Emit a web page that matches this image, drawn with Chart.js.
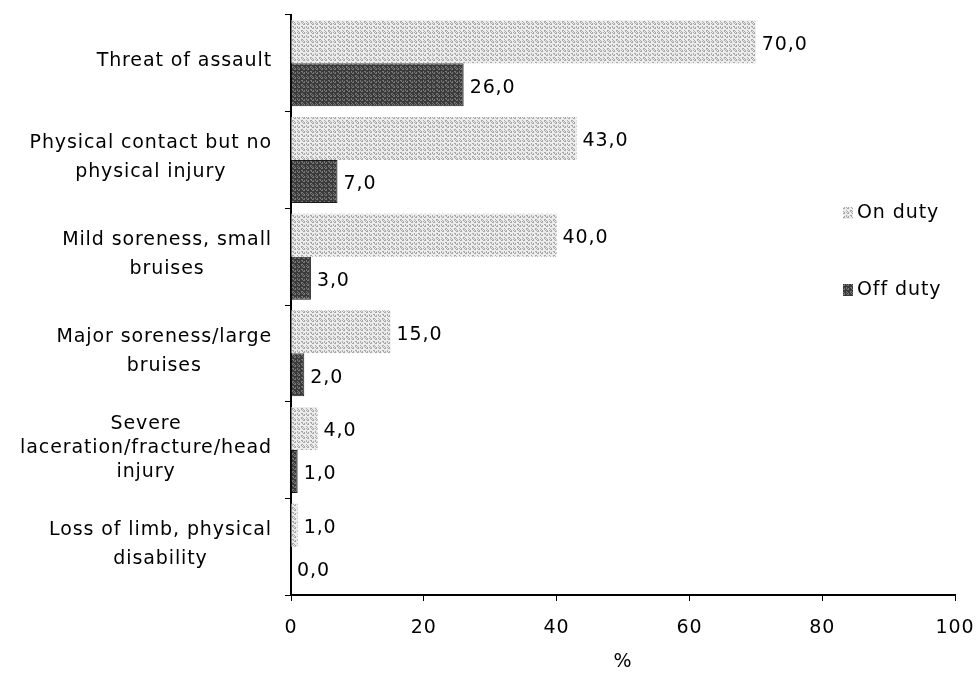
<!DOCTYPE html>
<html><head><meta charset="utf-8">
<script src="https://cdn.jsdelivr.net/npm/chart.js@4"></script>
<style>html,body{margin:0;padding:0;background:#fff}#wrap{width:979px;height:673px}</style>
</head><body><div id="wrap"><canvas id="c" width="979" height="673"></canvas></div>
<script>
const categories = [
  ["Threat of assault"],
  ["Physical contact but no", "physical injury"],
  ["Mild soreness, small", "bruises"],
  ["Major soreness/large", "bruises"],
  ["Severe", "laceration/fracture/head", "injury"],
  ["Loss of limb, physical", "disability"]
];
const onDuty = [70, 43, 40, 15, 4, 1];
const offDuty = [26, 7, 3, 2, 1, 0];
const xTicks = [0, 20, 40, 60, 80, 100];
const seriesNames = ["On duty", "Off duty"];

function makePattern(base, dot, seedA, seedB) {
  const p = document.createElement('canvas');
  p.width = 9; p.height = 9;
  const g = p.getContext('2d');
  g.fillStyle = base; g.fillRect(0, 0, 9, 9);
  g.fillStyle = dot;
  for (let y = 0; y < 9; y++) for (let x = 0; x < 9; x++) {
    if (((x * seedA + y * seedB + x * y) % 5) < 2) g.fillRect(x, y, 1, 1);
  }
  return document.getElementById('c').getContext('2d').createPattern(p, 'repeat');
}
const onFill = makePattern('#ececec', '#a8a8a8', 3, 7);
const offFill = makePattern('#3a3a3a', '#767676', 3, 7);

const FONT = "'DejaVu Sans', Verdana, sans-serif";
const FSIZE = 19;
const SPACING = '0.9px';

const spacingPlugin = {
  id: 'spacing',
  beforeUpdate(chart) { chart.ctx.letterSpacing = SPACING; },
  beforeDraw(chart) { chart.ctx.letterSpacing = SPACING; }
};

const valueLabels = {
  id: 'valueLabels',
  afterDatasetsDraw(chart) {
    const ctx = chart.ctx;
    ctx.save();
    ctx.letterSpacing = SPACING;
    ctx.font = FSIZE + 'px ' + FONT;
    ctx.fillStyle = '#000';
    ctx.textAlign = 'left';
    ctx.textBaseline = 'middle';
    chart.data.datasets.forEach((ds, di) => {
      chart.getDatasetMeta(di).data.forEach((el, i) => {
        const v = ds.data[i];
        ctx.fillText(v.toFixed(1).replace('.', ','), el.x + 6, el.y + 3);
      });
    });
    ctx.restore();
  }
};

const categoryLabels = {
  id: 'categoryLabels',
  afterDraw(chart) {
    const ctx = chart.ctx;
    const ys = chart.scales.y;
    ctx.save();
    ctx.letterSpacing = SPACING;
    ctx.font = FSIZE + 'px ' + FONT;
    ctx.fillStyle = '#000';
    ctx.textAlign = 'center';
    ctx.textBaseline = 'middle';
    categories.forEach((lines, i) => {
      const cy = ys.getPixelForValue(i);
      const w = Math.max(...lines.map(l => ctx.measureText(l).width));
      const cx = 272 - w / 2;
      const gap = lines.length > 2 ? 24 : 29;
      const y0 = cy - gap * (lines.length - 1) / 2 - 2;
      lines.forEach((l, k) => ctx.fillText(l, cx, y0 + k * gap));
    });
    ctx.restore();
  }
};

const customLegend = {
  id: 'customLegend',
  afterDraw(chart) {
    const ctx = chart.ctx;
    ctx.save();
    ctx.letterSpacing = SPACING;
    ctx.font = FSIZE + 'px ' + FONT;
    ctx.textBaseline = 'middle';
    const ys = [213, 290];
    const fills = [onFill, offFill];
    seriesNames.forEach((n, i) => {
      ctx.fillStyle = fills[i];
      ctx.fillRect(843, ys[i] - 6, 10, 12);
      ctx.fillStyle = '#000';
      ctx.fillText(n, 857, ys[i]);
    });
    ctx.restore();
  }
};

new Chart(document.getElementById('c'), {
  type: 'bar',
  data: {
    labels: categories.map(c => c.join(' ')),
    datasets: [
      { label: seriesNames[0], data: onDuty, backgroundColor: onFill, borderWidth: 0,
        categoryPercentage: 0.89, barPercentage: 1.0 },
      { label: seriesNames[1], data: offDuty, backgroundColor: offFill, borderColor: '#1a1a1a', borderWidth: 1,
        categoryPercentage: 0.89, barPercentage: 1.0 }
    ]
  },
  options: {
    indexAxis: 'y',
    responsive: false,
    animation: false,
    layout: { autoPadding: false, padding: { top: 15, right: 24, left: 0, bottom: 0 } },
    plugins: { legend: { display: false }, tooltip: { enabled: false } },
    scales: {
      x: {
        min: 0, max: 100,
        afterBuildTicks(s) { s.ticks = xTicks.map(v => ({ value: v })); },
        afterFit(s) { s.height = 78; s.paddingLeft = 0; s.paddingRight = 0; s.paddingTop = 0; s.paddingBottom = 0; },
        border: { color: '#000', width: 2 },
        grid: { drawOnChartArea: false, color: '#000', tickLength: 6, lineWidth: 1 },
        ticks: { color: '#000', font: { family: FONT, size: FSIZE }, padding: 16, maxRotation: 0 },
        title: { display: true, text: '%', color: '#000', font: { family: FONT, size: FSIZE }, padding: { top: 2, bottom: 0 } }
      },
      y: {
        afterFit(s) { s.width = 291; s.paddingLeft = 0; s.paddingRight = 0; s.paddingTop = 0; s.paddingBottom = 0; },
        border: { color: '#000', width: 2 },
        grid: { drawOnChartArea: false, color: '#000', tickLength: 6, offset: true },
        ticks: { color: 'rgba(0,0,0,0)', font: { family: FONT, size: FSIZE }, padding: 12, autoSkip: false }
      }
    }
  },
  plugins: [spacingPlugin, valueLabels, categoryLabels, customLegend]
});
</script></body></html>
